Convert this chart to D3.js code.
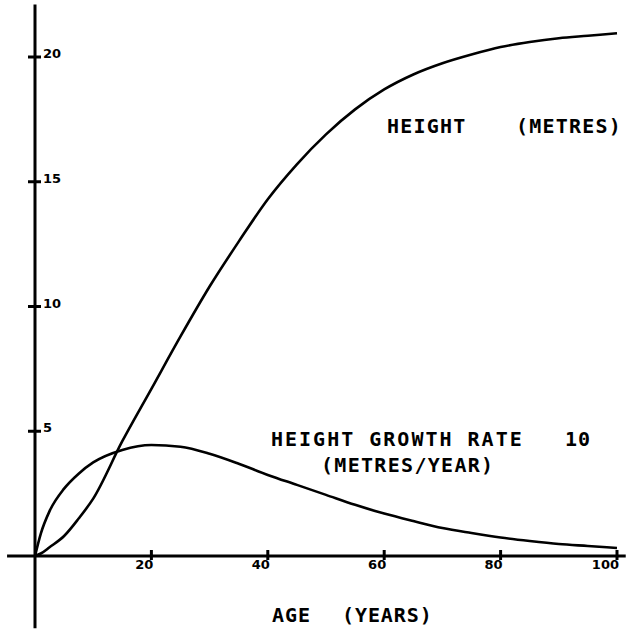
<!DOCTYPE html>
<html>
<head>
<meta charset="utf-8">
<script src="https://cdn.jsdelivr.net/npm/d3@7"></script>
<style>
  html, body { margin: 0; padding: 0; background: #fff; }
  svg { display: block; }
  .lbl { font-family: "DejaVu Sans Mono", monospace; font-weight: bold; font-size: 20px; fill: #000; }
  .tick-lbl { font-family: "DejaVu Sans", sans-serif; font-weight: bold; font-size: 13px; fill: #000; }
</style>
</head>
<body>
<svg id="chart" width="631" height="629"></svg>
<script>
// age in years
const ages = [0, 1, 2.5, 5, 7.5, 10, 15, 20, 25, 30, 35, 40, 45, 50, 55, 60, 65, 70, 75, 80, 85, 90, 95, 100];
// height in metres
const height = [0, 0.1, 0.35, 0.8, 1.5, 2.3, 4.6, 6.7, 8.8, 10.8, 12.6, 14.3, 15.7, 16.9, 17.9, 18.7, 19.3, 19.75, 20.1, 20.4, 20.6, 20.75, 20.85, 20.95];
// height growth rate x 10 (metres/year)
const growth = [0, 0.9, 1.8, 2.7, 3.3, 3.75, 4.25, 4.45, 4.38, 4.1, 3.7, 3.25, 2.85, 2.45, 2.05, 1.7, 1.4, 1.12, 0.92, 0.74, 0.6, 0.48, 0.4, 0.32];

const xTicks = [20, 40, 60, 80, 100];
const yTicks = [5, 10, 15, 20];

const svg = d3.select("#chart");

const x = d3.scaleLinear().domain([0, 100]).range([35, 617]);
const y = d3.scaleLinear().domain([0, 20]).range([556, 57]);

// axes: long lines through origin
svg.append("line")
    .attr("x1", x(-4.8)).attr("x2", x(101.5))
    .attr("y1", y(0)).attr("y2", y(0))
    .attr("stroke", "#000").attr("stroke-width", 3);

svg.append("line")
    .attr("x1", x(0)).attr("x2", x(0))
    .attr("y1", y(-2.9)).attr("y2", y(22.1))
    .attr("stroke", "#000").attr("stroke-width", 3);

// y ticks
const yAxis = svg.append("g");
yAxis.selectAll("line")
    .data(yTicks)
    .enter()
    .append("line")
    .attr("x1", x(0) - 7).attr("x2", x(0) + 6)
    .attr("y1", d => y(d)).attr("y2", d => y(d))
    .attr("stroke", "#000").attr("stroke-width", 3);
yAxis.selectAll("text")
    .data(yTicks)
    .enter()
    .append("text")
    .attr("class", "tick-lbl")
    .attr("x", x(0) + 8)
    .attr("y", d => y(d) + 1)
    .text(d => d);

// x ticks
const xAxis = svg.append("g");
xAxis.selectAll("line")
    .data(xTicks)
    .enter()
    .append("line")
    .attr("x1", d => x(d)).attr("x2", d => x(d))
    .attr("y1", y(0) - 6).attr("y2", y(0) + 4)
    .attr("stroke", "#000").attr("stroke-width", 3);
xAxis.selectAll("text")
    .data(xTicks)
    .enter()
    .append("text")
    .attr("class", "tick-lbl")
    .attr("text-anchor", "end")
    .attr("x", d => x(d) + 2)
    .attr("y", y(0) + 13)
    .text(d => d);

// curves
const curveLine = d3.line()
    .x((d, i) => x(ages[i]))
    .y(d => y(d))
    .curve(d3.curveMonotoneX);

svg.append("path")
    .datum(height)
    .attr("d", curveLine)
    .attr("fill", "none")
    .attr("stroke", "#000")
    .attr("stroke-width", 2.6);

svg.append("path")
    .datum(growth)
    .attr("d", curveLine)
    .attr("fill", "none")
    .attr("stroke", "#000")
    .attr("stroke-width", 2.6);

// labels
const labels = [
    { t: "HEIGHT", x: 387, y: 133, ls: 1.2 },
    { t: "(METRES)", x: 516, y: 133, ls: 1.2 },
    { t: "HEIGHT GROWTH RATE", x: 271, y: 446, ls: 2 },
    { t: "10", x: 565, y: 446, ls: 1 },
    { t: "(METRES/YEAR)", x: 321, y: 472, ls: 1.3 },
    { t: "AGE", x: 272, y: 622, ls: 0.9 },
    { t: "(YEARS)", x: 342, y: 622, ls: 0.9 }
];

svg.selectAll("text.lbl")
    .data(labels)
    .enter()
    .append("text")
    .attr("class", "lbl")
    .attr("x", d => d.x)
    .attr("y", d => d.y)
    .style("letter-spacing", d => d.ls + "px")
    .text(d => d.t);
</script>
</body>
</html>
